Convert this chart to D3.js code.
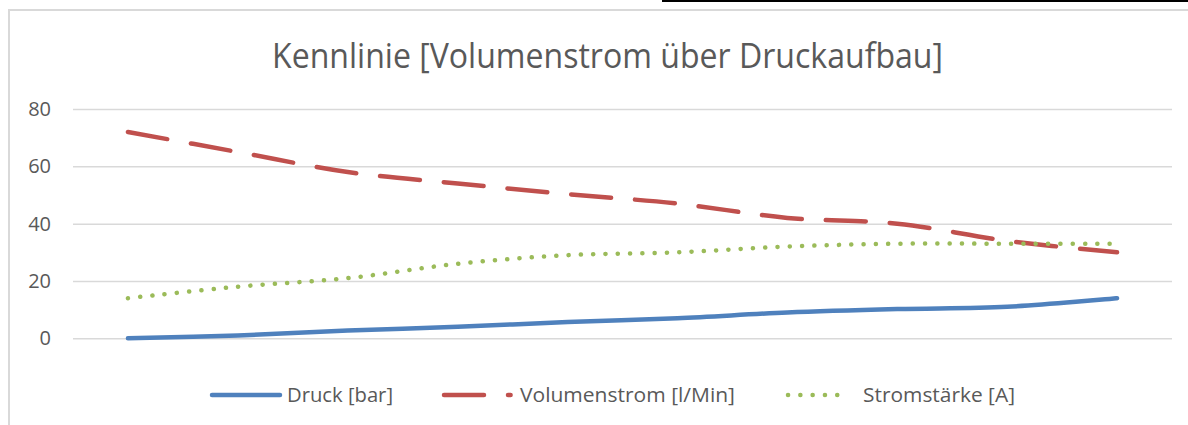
<!DOCTYPE html>
<html>
<head>
<meta charset="utf-8">
<script src="https://cdn.jsdelivr.net/npm/d3@7"></script>
<style>
  body { margin: 0; background: #fff; }
  text { font-family: "Open Sans", sans-serif; fill: #595959; }
</style>
</head>
<body>
<div id="chart"></div>
<script>
// Messpunkte (keine Beschriftung der x-Achse im Original)
var categories = [1, 2, 3, 4, 5, 6, 7, 8, 9, 10];
var druck = [0, 1, 2.7, 4, 5.7, 7, 9, 10.2, 11, 14];
var volumenstrom = [72, 65, 58, 54, 50.3, 47, 42, 40, 34, 30];
var stromstaerke = [14, 18, 21, 26, 29, 30, 32, 33, 33, 33];
var yTicks = [0, 20, 40, 60, 80];
var seriesNames = ["Druck [bar]", "Volumenstrom [l/Min]", "Stromstärke [A]"];

var width = 1188, height = 425;

var svg = d3.select("#chart")
  .append("svg")
    .attr("width", width)
    .attr("height", height);

// chart frame
svg.append("path")
    .attr("d", "M9,425 V10 H1188")
    .attr("fill", "none")
    .attr("stroke", "#d9d9d9")
    .attr("stroke-width", 2);
svg.append("line")
    .attr("x1", 662).attr("x2", 1188)
    .attr("y1", 1).attr("y2", 1)
    .attr("stroke", "#000")
    .attr("stroke-width", 2);

// title
svg.append("text")
    .attr("x", 272)
    .attr("y", 68)
    .attr("textLength", 671)
    .attr("lengthAdjust", "spacingAndGlyphs")
    .style("font-size", "35px")
    .text("Kennlinie [Volumenstrom über Druckaufbau]");

var x = d3.scaleBand().domain(categories).range([73, 1172]).padding(0);
var y = d3.scaleLinear().domain([0, 80]).range([338.3, 109]);

// gridlines + y labels
var yAxis = svg.append("g")
    .attr("transform", "translate(73,0)")
    .call(d3.axisLeft(y).tickValues(yTicks).tickSize(-(1172 - 73)).tickPadding(22));
yAxis.select(".domain").remove();
yAxis.selectAll("line")
    .attr("stroke", "#d9d9d9")
    .attr("stroke-width", 1.5);
yAxis.selectAll("text")
    .attr("fill", "#595959")
    .style("font-size", "20px")
    .style("font-family", "'Open Sans', sans-serif");

var cx = function(i) { return x(categories[i]) + x.bandwidth() / 2; };

var series = [
  { name: seriesNames[0], values: druck, color: "#4F81BD", dash: null },
  { name: seriesNames[1], values: volumenstrom, color: "#C0504D", dash: "40,24" },
  { name: seriesNames[2], values: stromstaerke, color: "#9BBB59", dash: "0.1,12.2" }
];

var line = d3.line()
    .x(function(d, i) { return cx(i); })
    .y(function(d) { return y(d); })
    .curve(d3.curveCatmullRom.alpha(0.5));

svg.selectAll(".series")
  .data(series)
  .enter()
  .append("path")
    .attr("class", "series")
    .attr("fill", "none")
    .attr("stroke", function(d) { return d.color; })
    .attr("stroke-width", 4.5)
    .attr("stroke-linecap", "round")
    .attr("stroke-linejoin", "round")
    .attr("stroke-dasharray", function(d) { return d.dash; })
    .attr("d", function(d) { return line(d.values); });

// legend
var legendY = 395;
var legendItems = [
  { x1: 212, x2: 280, tx: 287, tw: 106 },
  { x1: 444, x2: 510.6, tx: 520, tw: 215 },
  { x1: 788, x2: 849.1, tx: 863, tw: 152 }
];
var legend = svg.selectAll(".legend")
  .data(series)
  .enter()
  .append("g")
    .attr("class", "legend");
legend.append("line")
    .attr("x1", function(d, i) { return legendItems[i].x1; })
    .attr("x2", function(d, i) { return legendItems[i].x2; })
    .attr("y1", legendY).attr("y2", legendY)
    .attr("stroke", function(d) { return d.color; })
    .attr("stroke-width", 4.5)
    .attr("stroke-linecap", "round")
    .attr("stroke-dasharray", function(d) { return d.dash; });
legend.append("text")
    .attr("x", function(d, i) { return legendItems[i].tx; })
    .attr("y", legendY)
    .attr("dy", "0.35em")
    .attr("textLength", function(d, i) { return legendItems[i].tw; })
    .attr("lengthAdjust", "spacingAndGlyphs")
    .style("font-size", "20px")
    .text(function(d) { return d.name; });
</script>
</body>
</html>
